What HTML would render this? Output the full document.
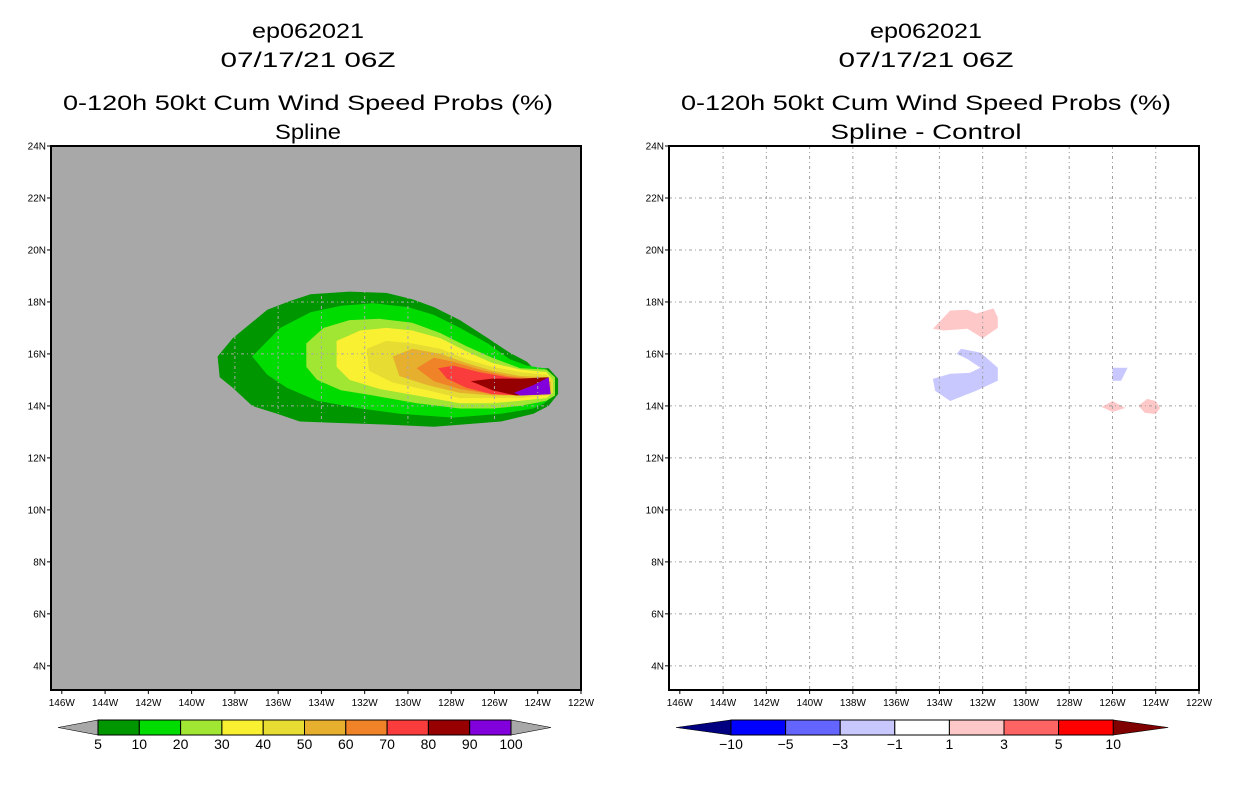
<!DOCTYPE html>
<html><head><meta charset="utf-8"><style>
body{margin:0;background:#fff;}
svg{display:block;font-family:"Liberation Sans",sans-serif;}
</style></head><body>
<svg id="chart" width="1236" height="800" viewBox="0 0 1236 800"></svg>
<script>
// ---- data ----
const lonTicks = [146,144,142,140,138,136,134,132,130,128,126,124,122];
const latTicks = [24,22,20,18,16,14,12,10,8,6,4];
const probLevels = ["5","10","20","30","40","50","60","70","80","90","100"];
const probColors = ["#009600","#00dc00","#a0e632","#faf032","#e6dc32","#e6af2d","#f08228","#fa3c3c","#960000","#8200dc"];
const diffLevels = ["-10","-5","-3","-1","1","3","5","10"];
const diffColors = ["#0000ff","#6464ff","#c8c8ff","#ffffff","#ffc8c8","#ff6464","#ff0000"];
// contour polygons: [lonW, latN] pairs
const c5 = [[138.8,15.9],[138.1,16.6],[136.5,17.7],[135.4,18.05],[134.5,18.3],[132.7,18.4],[131.0,18.35],[129.8,18.1],[128.8,17.8],[127.6,17.3],[126.3,16.6],[125.3,16.05],[124.5,15.7],[124.2,15.45],[123.5,15.45],[123.06,15.05],[123.06,14.46],[123.5,14.0],[124.2,13.7],[125.7,13.4],[128.8,13.2],[131.6,13.3],[133.5,13.35],[135.0,13.4],[136.05,13.7],[137.2,14.0],[138.1,14.7],[138.7,15.1]];
const c10 = [[137.2,15.9],[135.9,17.0],[134.5,17.6],[133.1,17.85],[131.6,17.95],[130.0,17.8],[128.8,17.5],[127.6,17.0],[126.3,16.4],[125.3,15.8],[124.5,15.55],[123.7,15.45],[123.2,15.05],[123.2,14.46],[123.7,14.1],[124.2,13.9],[125.7,13.7],[127.9,13.55],[130.4,13.7],[132.2,13.9],[134.2,14.2],[135.6,14.7],[136.5,15.2]];
const c20 = [[134.7,16.4],[133.9,17.0],[132.7,17.3],[131.3,17.35],[129.8,17.2],[128.5,16.8],[127.3,16.3],[126.1,15.85],[124.8,15.45],[123.6,15.4],[123.2,15.1],[123.2,14.4],[123.6,14.2],[124.8,14.0],[126.1,13.9],[127.6,13.9],[129.6,14.1],[131.6,14.4],[133.1,14.6],[134.2,15.0],[134.7,15.5]];
const c30 = [[133.3,16.5],[132.2,16.9],[131.0,17.0],[129.8,16.9],[128.5,16.6],[127.3,16.1],[126.1,15.65],[124.8,15.4],[123.6,15.3],[123.3,15.0],[123.3,14.5],[123.6,14.3],[124.8,14.2],[126.1,14.1],[127.6,14.1],[129.6,14.4],[131.3,14.65],[132.7,15.0],[133.3,15.5]];
const c40 = [[131.9,16.2],[131.0,16.5],[129.8,16.4],[128.5,16.2],[127.3,15.8],[126.1,15.5],[124.8,15.3],[123.6,15.2],[123.3,15.0],[123.3,14.5],[123.6,14.4],[124.8,14.3],[126.1,14.3],[127.6,14.3],[129.1,14.6],[130.7,14.9],[131.8,15.35]];
const c50 = [[130.7,15.9],[129.8,16.2],[128.5,16.0],[127.3,15.65],[126.1,15.35],[124.8,15.15],[123.6,15.1],[123.4,14.9],[123.4,14.6],[123.6,14.5],[124.8,14.4],[126.1,14.4],[127.6,14.5],[129.1,14.8],[130.4,15.15]];
const c60 = [[129.6,15.45],[128.8,15.85],[127.9,15.7],[126.7,15.4],[125.4,15.15],[124.2,15.05],[123.5,15.05],[123.5,14.5],[124.8,14.45],[126.1,14.45],[127.6,14.65],[128.8,14.95]];
const c70 = [[128.6,15.45],[127.9,15.55],[126.7,15.3],[125.4,15.1],[124.2,15.0],[123.5,15.0],[123.5,14.5],[124.8,14.4],[126.1,14.45],[127.3,14.7],[128.2,15.05]];
const c80 = [[127.1,14.95],[126.1,15.05],[124.8,15.05],[123.5,15.1],[123.5,14.45],[125.0,14.4],[126.1,14.6],[126.8,14.85]];
const c90 = [[125.1,14.5],[124.2,14.8],[123.5,15.1],[123.4,14.45],[124.8,14.4]];
const probContours = [c5,c10,c20,c30,c40,c50,c60,c70,c80,c90];
const posA = [[134.3,16.97],[133.5,17.67],[132.7,17.7],[132.3,17.55],[131.5,17.75],[131.3,17.4],[131.3,17.0],[132.0,16.6],[132.7,16.97],[133.8,16.9]];
const negA = [[133.2,16.0],[133.0,16.2],[132.1,16.05],[131.3,15.47],[131.3,14.97],[132.3,14.58],[133.5,14.19],[134.2,14.58],[134.3,15.04],[133.5,15.24],[132.6,15.27],[132.1,15.47],[132.7,15.8]];
const negB = [[126.0,15.47],[125.3,15.47],[125.6,14.97],[126.0,14.97]];
const posB = [[126.5,13.96],[126.0,14.19],[125.4,13.92],[126.0,13.77]];
const posC = [[124.8,14.0],[124.4,14.27],[124.0,14.19],[123.8,13.92],[124.0,13.69],[124.5,13.73]];

// ---- drawing ----
const NS="http://www.w3.org/2000/svg";
const svg=document.getElementById('chart');
function mk(tag,attrs,parent){const e=document.createElementNS(NS,tag);for(const k in attrs)e.setAttribute(k,attrs[k]);(parent||svg).appendChild(e);return e;}
const W0=146.5,W1=122,N0=24,N1=3.07,PW=530,PH=544,TOP=146;
function xS(x0,lon){return x0+(W0-lon)/(W0-W1)*PW;}
function yS(lat){return TOP+(N0-lat)/(N0-N1)*PH;}
function pts(x0,poly){return poly.map(p=>xS(x0,p[0]).toFixed(1)+','+yS(p[1]).toFixed(1)).join(' ');}

function panel(x0,cx,sub,subW,bg,pid){
  const g=mk('g',{});
  
  
  const titles=['ep062021','07/17/21 06Z','0-120h 50kt Cum Wind Speed Probs (%)',sub];
  const widths=[112,175,490,subW];
  const ys=[38,67,110,139];
  titles.forEach((t,i)=>{const e=mk('text',{x:cx,y:ys[i],'text-anchor':'middle','font-size':21,fill:'#000',textLength:widths[i],lengthAdjust:'spacingAndGlyphs'},g);e.textContent=t;
    
    });
  const r=mk('rect',{x:x0,y:TOP,width:PW,height:PH,fill:bg},g);
  
  
  return g;
}
function grid(g,x0,col){
  lonTicks.forEach(l=>{if(l<=144&&l>=124){const x=xS(x0,l);const e=mk('line',{x1:x,x2:x,y1:TOP,y2:TOP+PH,stroke:col,'stroke-width':1,'stroke-dasharray':'3,3,1,3'},g);
    
    }});
  latTicks.forEach(l=>{if(l<=22&&l>=4){const y=yS(l);const e=mk('line',{x1:x0,x2:x0+PW,y1:y,y2:y,stroke:col,'stroke-width':1,'stroke-dasharray':'3,3,1,3'},g);
    
    }});
}
function axes(g,x0,pid){
  const f=mk('rect',{x:x0,y:TOP,width:PW,height:PH,fill:'none',stroke:'#000','stroke-width':2},g);
  
  
  lonTicks.forEach(l=>{const x=xS(x0,l);mk('line',{x1:x,x2:x,y1:TOP+PH,y2:TOP+PH+4,stroke:'#000'},g);
    const t=mk('text',{x:x,y:TOP+PH+16,'text-anchor':'middle','font-size':10,fill:'#000'},g);t.textContent=l+'W';
    
    });
  latTicks.forEach(l=>{const y=yS(l);mk('line',{x1:x0-4,x2:x0,y1:y,y2:y,stroke:'#000'},g);
    const t=mk('text',{x:x0-5,y:y+3.5,'text-anchor':'end','font-size':10,fill:'#000'},g);t.textContent=l+'N';
    
    });
}
function colorbar(g,x0,boxW,arrowL,colors,labels,tl,tr,pid){
  const y=720,h=15,n=colors.length,xe=x0+boxW*n;
  const a=mk('polygon',{points:`${x0},${y} ${x0},${y+h} ${x0-arrowL},${y+h/2}`,fill:tl,stroke:'#000','stroke-width':0.6},g);
  
  
  const b=mk('polygon',{points:`${xe},${y} ${xe},${y+h} ${xe+arrowL},${y+h/2}`,fill:tr,stroke:'#000','stroke-width':0.6},g);
  
  
  colors.forEach((c,i)=>{const r=mk('rect',{x:x0+i*boxW,y:y,width:boxW,height:h,fill:c,stroke:'#000','stroke-width':1},g);
    
    });
  labels.forEach((l,i)=>{const t=mk('text',{x:x0+i*boxW,y:y+h+14,'text-anchor':'middle','font-size':14,fill:'#000'},g);t.textContent=l.replace('-','\u2212');
    
    });
}
// left
const L=51;
const gl=panel(L,308,'Spline',66,'#a8a8a8','left');
probContours.forEach((c,i)=>{const p=mk('polygon',{points:pts(L,c),fill:probColors[i]},gl);
  
  });
grid(gl,L,'#a8a8a8');
axes(gl,L,'left');
colorbar(gl,98,41.3,40,probColors,probLevels,'#a8a8a8','#a8a8a8','left');
// right
const R=669;
const gr=panel(R,926,'Spline - Control',191,'#ffffff','right');
[[posA,'#ffc8c8','pos-area-a'],[negA,'#c8c8ff','neg-area-a'],[negB,'#c8c8ff','neg-area-b'],[posB,'#ffc8c8','pos-area-b'],[posC,'#ffc8c8','pos-area-c']].forEach(d=>{
  const p=mk('polygon',{points:pts(R,d[0]),fill:d[1]},gr);
  
  });
grid(gr,R,'#a0a0a0');
axes(gr,R,'right');
colorbar(gr,731,54.6,55,diffColors,diffLevels,'#000080','#800000','right');
</script>
</body></html>
